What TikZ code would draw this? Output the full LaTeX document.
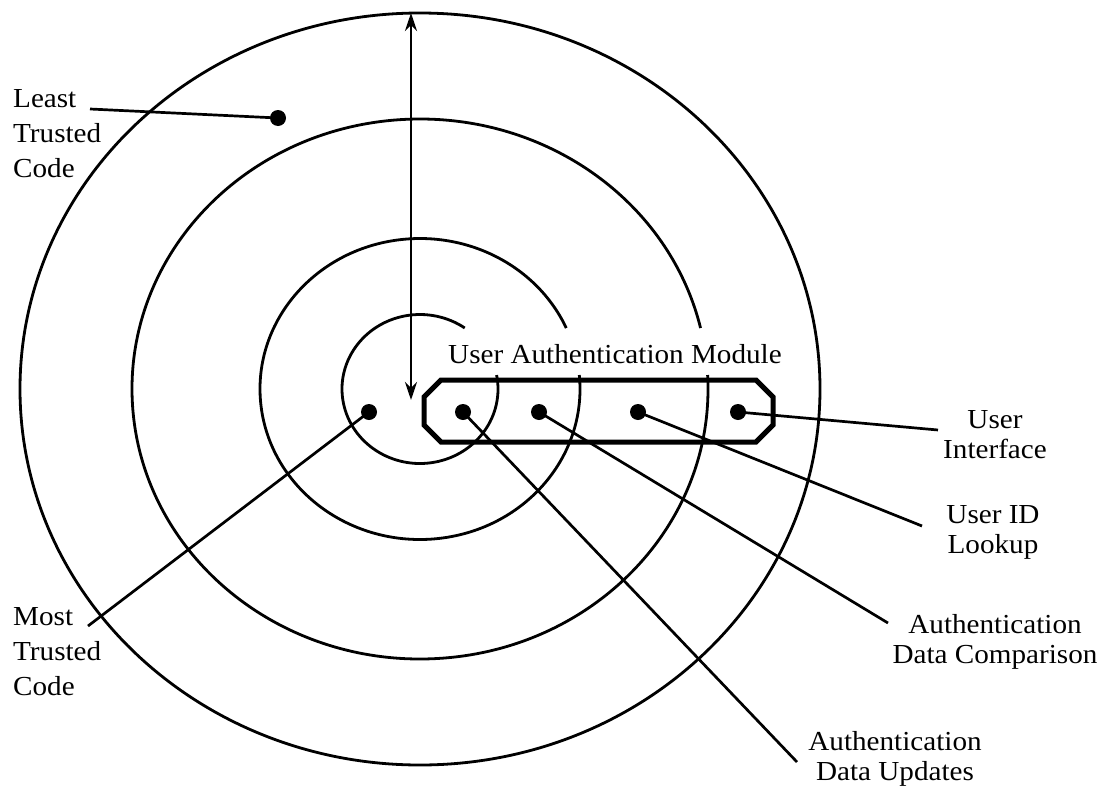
\documentclass[tikz,border=0pt]{standalone}
\usepackage{fontspec}
\setmainfont{Liberation Serif}[FakeStretch=1.06]
\usetikzlibrary{arrows.meta}
\begin{document}
\begin{tikzpicture}[x=1pt,y=-1pt,
  ring/.style={line width=2.8pt},
  conn/.style={line width=2.7pt},
  dot/.style={circle, fill=black, inner sep=0pt, minimum size=16pt},
  rlbl/.style={font=\fontsize{27.5}{29.5}\selectfont, inner sep=0pt, anchor=base, align=center},
  llbl/.style={font=\fontsize{27.5}{35}\selectfont, inner sep=0pt, anchor=base west, align=left},
  modbox/.style={line width=5pt, line join=miter},
  dblarrow/.style={{Stealth[length=18pt,width=12pt]}-{Stealth[length=18pt,width=12pt]}}
]
\useasboundingbox (0,0) rectangle (1106,790);
\coordinate (c) at (420,389);
% rings
\draw[ring] (c) ellipse [x radius=400, y radius=376];
\draw[ring] (c) ++(-2.97:288 and 270) arc[start angle=-2.97, end angle=346.94, x radius=288, y radius=270];
\draw[ring] (c) ++(-5.34:160 and 150.5) arc[start angle=-5.34, end angle=336.1, x radius=160, y radius=150.5];
\draw[ring] (c) ++(-10.8:78 and 74.5) arc[start angle=-10.8, end angle=305, x radius=78, y radius=74.5];
% module box
\draw[modbox] (441,380) -- (756,380) -- (773,397) -- (773,425) -- (756,442)
  -- (441,442) -- (424,425) -- (424,397) -- cycle;
\node[rlbl, anchor=base west] (title) at (448,363) {User Authentication Module};
% arrow
\coordinate (atop) at (411,13);
\coordinate (abot) at (411,400);
\draw[conn, dblarrow] (abot) -- (atop);
% dots
\node[dot] (lt) at (278,118) {};
\node[dot] (d1) at (369,412) {};
\node[dot] (d2) at (463,412) {};
\node[dot] (d3) at (539,412) {};
\node[dot] (d4) at (638,412) {};
\node[dot] (d5) at (738,412) {};
% labels (base anchor = last line)
\node[llbl] (ltc) at (13,177) {Least\\Trusted\\Code};
\node[llbl] (mtc) at (13,695) {Most\\Trusted\\Code};
\node[rlbl] (ui) at (995,458) {User\\Interface};
\node[rlbl] (uid) at (993,553) {User ID\\Lookup};
\node[rlbl] (adc) at (995,663) {Authentication\\Data Comparison};
\node[rlbl] (adu) at (895,780) {Authentication\\Data Updates};
% connector ends
\coordinate (ltE) at (90,109);
\coordinate (mtE) at (88,626);
\coordinate (aduE) at (797,762);
\coordinate (adcE) at (888,623);
\coordinate (uidE) at (922,526);
\coordinate (uiE) at (938,430);
\draw[conn] (ltE) -- (lt.center);
\draw[conn] (mtE) -- (d1.center);
\draw[conn] (d2.center) -- (aduE);
\draw[conn] (d3.center) -- (adcE);
\draw[conn] (d4.center) -- (uidE);
\draw[conn] (d5.center) -- (uiE);
\end{tikzpicture}
\end{document}
